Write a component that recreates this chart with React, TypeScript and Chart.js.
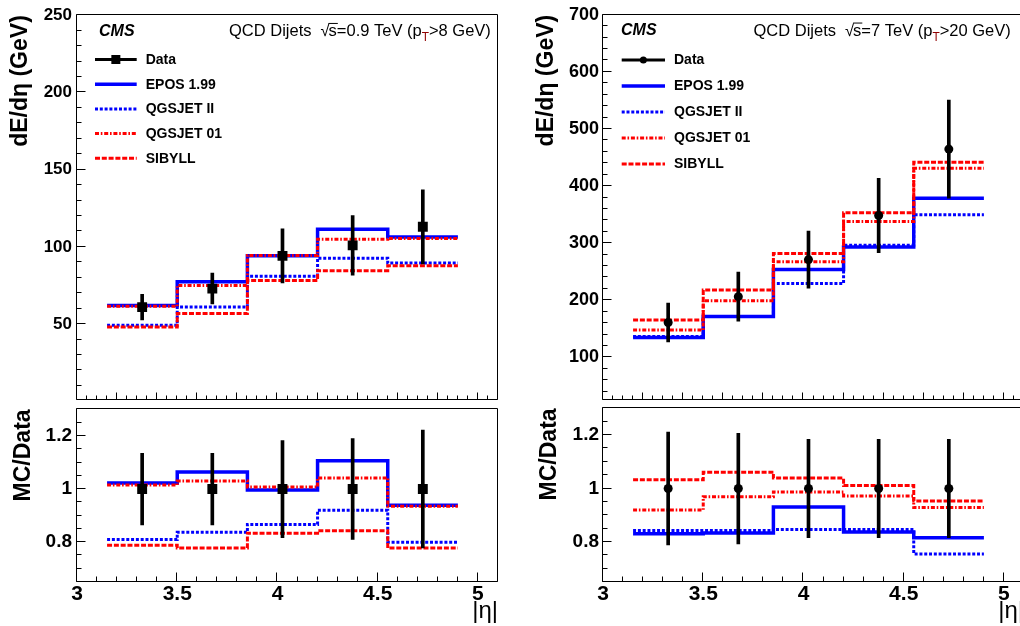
import React, { useEffect, useRef } from 'react';
import { Chart, registerables } from 'chart.js';

Chart.register(...registerables);

// ---------------- data ----------------
const binEdges = [3.15, 3.5, 3.85, 4.2, 4.55, 4.9];
const binCenters = [3.325, 3.675, 4.025, 4.375, 4.725];
const xTickLabels = [3, 3.5, 4, 4.5, 5];
const legendLabels = ['Data', 'EPOS 1.99', 'QGSJET II', 'QGSJET 01', 'SIBYLL'];

// sqrt(s) = 0.9 TeV : dE/d|eta| (GeV)
const data09 = [61, 73, 94.2, 101, 113];
const data09Err = [8.3, 10, 17.5, 19.3, 24];
const epos09 = [62.1, 77.5, 94.2, 111.4, 106.4];
const qgsII09 = [49.3, 61.1, 81, 92.7, 89.5];
const qgs01_09 = [61.6, 75, 94.5, 105, 105.5];
const sibyll09 = [48.2, 56.8, 78.2, 84.6, 87.8];
// sqrt(s) = 0.9 TeV : MC/Data
const ratioData = [1, 1, 1, 1, 1];
const ratioErr09 = [0.135, 0.135, 0.183, 0.19, 0.222];
const eposRatio09 = [1.023, 1.064, 0.996, 1.107, 0.939];
const qgsIIRatio09 = [0.81, 0.837, 0.867, 0.92, 0.8];
const qgs01Ratio09 = [1.015, 1.03, 1.008, 1.042, 0.935];
const sibyllRatio09 = [0.788, 0.778, 0.834, 0.843, 0.778];

// sqrt(s) = 7 TeV : dE/d|eta| (GeV)
const data7 = [161, 206.3, 271.3, 348.5, 464.8];
const data7Err = [34, 43, 50, 65, 86];
const epos7 = [134.9, 171.5, 253.9, 293.4, 378.9];
const qgsII7 = [136.6, 171.5, 229.5, 296.2, 349.7];
const qgs01_7 = [148, 199.3, 267.3, 338, 431.1];
const sibyll7 = [165.5, 217.8, 281.8, 353.2, 441.6];
// sqrt(s) = 7 TeV : MC/Data
const ratioErr7 = [0.211, 0.207, 0.184, 0.184, 0.184];
const eposRatio7 = [0.831, 0.833, 0.931, 0.837, 0.816];
const qgsIIRatio7 = [0.843, 0.843, 0.847, 0.847, 0.755];
const qgs01Ratio7 = [0.92, 0.969, 0.987, 0.972, 0.929];
const sibyllRatio7 = [1.033, 1.061, 1.039, 1.011, 0.953];

const yTicksMain09 = [50, 100, 150, 200, 250];
const yTicksMain7 = [100, 200, 300, 400, 500, 600, 700];
const yTicksRatio = [0.8, 1, 1.2];

const energy09 = '0.9';
const ptCut09 = '8';
const energy7 = '7';
const ptCut7 = '20';

// ---------------- styles ----------------
const FONT = '"Liberation Sans", Arial, Helvetica, sans-serif';
const modelStyles = [
  { color: '#0000ff', width: 3.5, dash: [] as number[] },
  { color: '#0000ff', width: 3, dash: [3, 1.8] },
  { color: '#ff0000', width: 3, dash: [4, 1.8, 1.6, 1.8] },
  { color: '#ff0000', width: 3, dash: [5, 1.8] },
];

function stepData(vals: number[]) {
  return binEdges.map((x, i) => ({ x, y: vals[Math.min(i, vals.length - 1)] }));
}

function isMult(v: number, step: number) {
  const r = v / step;
  return Math.abs(r - Math.round(r)) < 1e-6;
}

const fmt = (v: any) => `${+(+v).toFixed(4)}`;

const rootDecor = {
  id: 'rootDecor',
  afterDraw(chart: any, _args: any, o: any) {
    const { ctx, chartArea: ca } = chart;
    const xs = chart.scales.x;
    const ys = chart.scales.y;
    ctx.save();
    ctx.strokeStyle = '#000';
    ctx.lineWidth = 1;
    ctx.setLineDash([]);
    const L = Math.round(ca.left) - 0.5;
    const R = Math.round(ca.right) - 0.5;
    const T = Math.round(ca.top) - 0.5;
    const B = Math.round(ca.bottom) - 0.5;
    ctx.beginPath();
    ctx.moveTo(L, T); ctx.lineTo(R, T); ctx.lineTo(R, B); ctx.lineTo(L, B); ctx.closePath();
    // y ticks
    const y0 = Math.ceil(ys.min / o.yMinor - 1e-9) * o.yMinor;
    for (let k = 0; ; k++) {
      const v = +(y0 + k * o.yMinor).toFixed(6);
      if (v > ys.max + 1e-9) break;
      const py = Math.round(ys.getPixelForValue(v)) - 0.5;
      const len = isMult(v, o.yMajor) ? o.yMajorLen : o.yMinorLen;
      ctx.moveTo(L, py); ctx.lineTo(L + len, py);
    }
    // x ticks
    const x0 = Math.ceil(xs.min / o.xMinor - 1e-9) * o.xMinor;
    for (let k = 0; ; k++) {
      const v = +(x0 + k * o.xMinor).toFixed(6);
      if (v > xs.max + 1e-9) break;
      const px = Math.round(xs.getPixelForValue(v)) - 0.5;
      const len = isMult(v, o.xMajor) ? o.xMajorLen : o.xMinorLen;
      ctx.moveTo(px, B); ctx.lineTo(px, B - len);
    }
    ctx.stroke();

    // texts
    if (o.texts) {
      const t = o.texts;
      ctx.fillStyle = '#000';
      ctx.textBaseline = 'middle';
      ctx.textAlign = 'left';
      ctx.font = `italic bold 16px ${FONT}`;
      ctx.fillText('CMS', ca.left + t.cmsX, ca.top + t.cmsY);
      const fs = 16.5;
      const ty = ca.top + t.titleY;
      let cx = ca.left + t.titleX;
      ctx.font = `${fs}px ${FONT}`;
      ctx.fillText('QCD Dijets', cx, ty);
      cx += ctx.measureText('QCD Dijets').width + 9;
      ctx.fillText('\u221A', cx, ty);
      cx += ctx.measureText('\u221A').width - 1;
      const sw = ctx.measureText('s').width;
      ctx.beginPath();
      ctx.lineWidth = 1;
      ctx.moveTo(cx, ty - fs * 0.5);
      ctx.lineTo(cx + sw + 1, ty - fs * 0.5);
      ctx.stroke();
      const s1 = `s=${t.energy} TeV (p`;
      ctx.fillText(s1, cx, ty);
      cx += ctx.measureText(s1).width;
      ctx.font = `${fs * 0.72}px ${FONT}`;
      ctx.fillStyle = '#900000';
      ctx.fillText('T', cx, ty + fs * 0.38);
      cx += ctx.measureText('T').width;
      ctx.fillStyle = '#000';
      ctx.font = `${fs}px ${FONT}`;
      ctx.fillText(`>${t.pt} GeV)`, cx, ty);
    }

    // legend
    if (o.legend) {
      const lg = o.legend;
      ctx.textBaseline = 'middle';
      ctx.textAlign = 'left';
      for (let i = 0; i < legendLabels.length; i++) {
        const y = ca.top + lg.y0 + i * lg.dy;
        const xa = ca.left + lg.x0;
        const xb = ca.left + lg.x1;
        ctx.beginPath();
        if (i === 0) {
          ctx.setLineDash([]);
          ctx.strokeStyle = '#000';
          ctx.lineWidth = 3;
          ctx.moveTo(xa, y); ctx.lineTo(xb, y);
          ctx.stroke();
          ctx.fillStyle = '#000';
          const xm = (xa + xb) / 2;
          if (lg.marker === 'rect') {
            ctx.fillRect(xm - 4.5, y - 4.5, 9, 9);
          } else {
            ctx.beginPath();
            ctx.arc(xm, y, 3.5, 0, Math.PI * 2);
            ctx.fill();
          }
        } else {
          const st = modelStyles[i - 1];
          ctx.setLineDash(st.dash);
          ctx.strokeStyle = st.color;
          ctx.lineWidth = st.width;
          ctx.moveTo(xa, y); ctx.lineTo(xb, y);
          ctx.stroke();
        }
        ctx.setLineDash([]);
        ctx.fillStyle = '#000';
        ctx.font = `bold 14px ${FONT}`;
        ctx.fillText(legendLabels[i], ca.left + lg.tx, y + 0.5);
      }
    }
    ctx.restore();
  },
};

type PanelCfg = {
  kind: 'main' | 'ratio';
  width: number;
  height: number;
  padTop: number;
  padBottom: number;
  yMin: number;
  yMax: number;
  yTicks: number[];
  yMinor: number;
  yMajor: number;
  yLabelSize: number;
  yLabelPad: number;
  yTitle: string;
  yTitlePad: number;
  data: number[];
  err: number[];
  models: number[][];
  marker: 'rect' | 'circle';
  markerRadius: number;
  texts?: any;
  legend?: any;
};

function buildConfig(p: PanelCfg): any {
  const isRatio = p.kind === 'ratio';
  const datasets: any[] = [
    {
      type: 'line',
      label: 'Data',
      data: binCenters.map((x, i) => ({ x, y: p.data[i] })),
      showLine: false,
      pointStyle: p.marker,
      pointRadius: p.markerRadius,
      pointBackgroundColor: '#000',
      pointBorderColor: '#000',
      pointBorderWidth: 0,
      order: 0,
    },
    {
      type: 'bar',
      label: 'Data uncertainty',
      data: binCenters.map((x, i) => ({ x, y: [p.data[i] - p.err[i], p.data[i] + p.err[i]] })),
      backgroundColor: '#000',
      borderWidth: 0,
      barThickness: 3,
      order: 1,
    },
    ...p.models.map((vals, k) => ({
      type: 'line',
      label: legendLabels[k + 1],
      data: stepData(vals),
      stepped: 'before',
      borderColor: modelStyles[k].color,
      borderWidth: modelStyles[k].width,
      borderDash: modelStyles[k].dash,
      borderCapStyle: 'butt',
      pointRadius: 0,
      fill: false,
      order: 5 - k,
    })),
  ];
  return {
    type: 'line',
    data: { datasets },
    plugins: [rootDecor],
    options: {
      animation: false,
      responsive: false,
      events: [],
      layout: { padding: { left: 0, top: p.padTop, right: p.width - 77 - 421, bottom: p.padBottom } },
      plugins: {
        legend: { display: false },
        tooltip: { enabled: false },
        rootDecor: {
          yMinor: p.yMinor,
          yMajor: p.yMajor,
          yMajorLen: 9,
          yMinorLen: 5,
          xMinor: isRatio ? 0.1 : 0.05,
          xMajor: isRatio ? 0.5 : 0.2,
          xMajorLen: isRatio ? 9 : 7,
          xMinorLen: isRatio ? 5 : 4,
          texts: p.texts,
          legend: p.legend,
        },
      },
      scales: {
        x: {
          type: 'linear',
          min: 3,
          max: 5.1,
          offset: false,
          grid: { display: false, drawTicks: false },
          border: { display: false },
          ticks: {
            display: isRatio,
            color: '#000',
            padding: 0,
            maxRotation: 0,
            autoSkip: false,
            callback: fmt,
            font: { family: FONT, size: 21, weight: 'bold' },
          },
          afterBuildTicks: (s: any) => {
            s.ticks = xTickLabels.map((v) => ({ value: v }));
          },
          afterFit: (s: any) => {
            s.height = isRatio ? 44 : 0;
          },
          title: {
            display: isRatio,
            text: '|\u03B7|',
            align: 'end',
            color: '#000',
            padding: 0,
            font: { family: FONT, size: 24 },
          },
        },
        y: {
          type: 'linear',
          min: p.yMin,
          max: p.yMax,
          grid: { display: false, drawTicks: false },
          border: { display: false },
          ticks: {
            color: '#000',
            padding: p.yLabelPad,
            autoSkip: false,
            callback: fmt,
            font: { family: FONT, size: p.yLabelSize, weight: 'bold' },
          },
          afterBuildTicks: (s: any) => {
            s.ticks = p.yTicks.map((v) => ({ value: v }));
          },
          afterFit: (s: any) => {
            s.width = 77;
          },
          title: {
            display: true,
            text: p.yTitle,
            align: 'end',
            color: '#000',
            padding: { top: p.yTitlePad, bottom: 0 },
            font: { family: FONT, size: 23, weight: 'bold' },
          },
        },
      },
    },
  };
}

function Panel({ cfg, left, top }: { cfg: PanelCfg; left: number; top: number }) {
  const ref = useRef<HTMLCanvasElement | null>(null);
  useEffect(() => {
    const chart = new Chart(ref.current as HTMLCanvasElement, buildConfig(cfg));
    return () => chart.destroy();
  }, []);
  return (
    <canvas
      ref={ref}
      width={cfg.width}
      height={cfg.height}
      style={{ position: 'absolute', left, top, width: cfg.width, height: cfg.height, display: 'block' }}
    />
  );
}

const mainBase = { kind: 'main' as const, width: 510, height: 415, padTop: 13, padBottom: 12, yTitle: 'dE/d\u03B7 (GeV)', yTitlePad: 7 };
const ratioBase = {
  kind: 'ratio' as const, width: 510, height: 233, padTop: 14, padBottom: 0,
  yMin: 0.65, yMax: 1.3, yTicks: yTicksRatio, yMinor: 0.05, yMajor: 0.2, yLabelSize: 19, yLabelPad: 5,
  yTitle: 'MC/Data', yTitlePad: 10, data: ratioData,
};

const panels: { cfg: PanelCfg; left: number; top: number }[] = [
  {
    left: 0, top: 0,
    cfg: {
      ...mainBase, yMin: 1, yMax: 250, yTicks: yTicksMain09, yMinor: 10, yMajor: 50, yLabelSize: 17, yLabelPad: 5,
      data: data09, err: data09Err, models: [epos09, qgsII09, qgs01_09, sibyll09],
      marker: 'rect', markerRadius: 7,
      texts: { cmsX: 22, cmsY: 16.5, titleX: 152, titleY: 16.5, energy: energy09, pt: ptCut09 },
      legend: { x0: 18, x1: 59.7, tx: 68.7, y0: 44.3, dy: 24.7, marker: 'rect' },
    },
  },
  {
    left: 0, top: 393,
    cfg: { ...ratioBase, err: ratioErr09, models: [eposRatio09, qgsIIRatio09, qgs01Ratio09, sibyllRatio09], marker: 'rect', markerRadius: 7 },
  },
  {
    left: 526, top: 0,
    cfg: {
      ...mainBase, yMin: 25, yMax: 700, yTicks: yTicksMain7, yMinor: 20, yMajor: 100, yLabelSize: 18, yLabelPad: 4,
      data: data7, err: data7Err, models: [epos7, qgsII7, qgs01_7, sibyll7],
      marker: 'circle', markerRadius: 4.5,
      texts: { cmsX: 18, cmsY: 15.5, titleX: 150.5, titleY: 16.5, energy: energy7, pt: ptCut7 },
      legend: { x0: 18.7, x1: 62, tx: 71, y0: 45.3, dy: 26, marker: 'circle' },
    },
  },
  {
    left: 526, top: 393,
    cfg: { ...ratioBase, err: ratioErr7, models: [eposRatio7, qgsIIRatio7, qgs01Ratio7, sibyllRatio7], marker: 'circle', markerRadius: 4.5, yLabelPad: 4 },
  },
];

export default function App() {
  return (
    <div style={{ position: 'fixed', left: 0, top: 0, width: 1020, height: 626, overflow: 'hidden', background: '#fff' }}>
      {panels.map((p, i) => (
        <Panel key={i} cfg={p.cfg} left={p.left} top={p.top} />
      ))}
    </div>
  );
}
